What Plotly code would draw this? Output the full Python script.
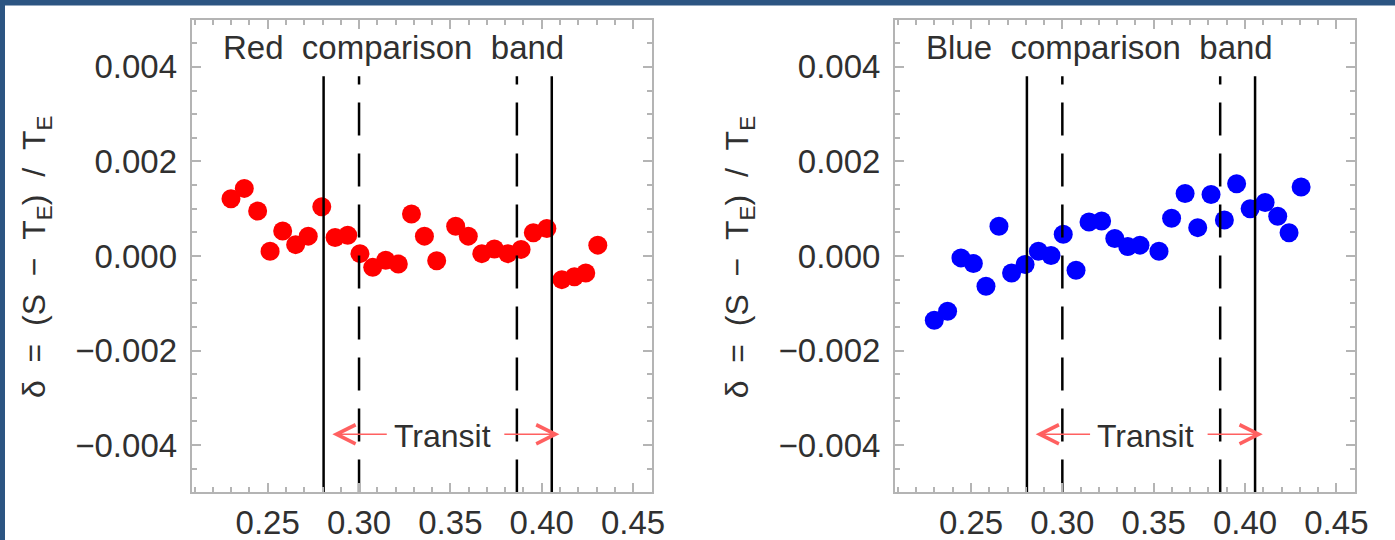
import plotly.graph_objects as go

# ---------------- data ----------------
phase = [0.2299, 0.2372, 0.2445, 0.2513, 0.2582, 0.2653, 0.2722, 0.2796, 0.2869, 0.2938,
         0.3005, 0.3075, 0.3146, 0.3215, 0.3287, 0.3358, 0.3425, 0.3529, 0.3598, 0.3672,
         0.3741, 0.3814, 0.3887, 0.3954, 0.4028, 0.4110, 0.4179, 0.4241, 0.4307]

red_delta = [0.00121, 0.00143, 0.00095, 0.00010, 0.00053, 0.00024, 0.00042, 0.00104, 0.00039, 0.00044,
             0.00005, -0.00024, -0.00009, -0.00017, 0.00089, 0.00042, -0.00010, 0.00063, 0.00042, 0.00005,
             0.00015, 0.00005, 0.00014, 0.00049, 0.00058, -0.00050, -0.00044, -0.00036, 0.00023]

blue_delta = [-0.00136, -0.00117, -0.00004, -0.00016, -0.00064, 0.00063, -0.00036, -0.00018, 0.00010, 0.00001,
              0.00046, -0.00030, 0.00072, 0.00074, 0.00037, 0.00020, 0.00023, 0.00010, 0.00080, 0.00132,
              0.00060, 0.00130, 0.00076, 0.00153, 0.00100, 0.00113, 0.00084, 0.00049, 0.00146]

contact_solid = [0.2806, 0.4055]     # first / fourth contact
contact_dashed = [0.3000, 0.3864]    # second / third contact
contact_top = 0.0038

arrow_y = -0.00377
arrow_left = [0.3160, 0.2854]        # tail, tip
arrow_right = [0.3787, 0.4097]       # tail, tip
transit_label_x = 0.3457

x_range = [0.2084, 0.4602]
y_range = [-0.005, 0.005]
x_ticks = [0.25, 0.30, 0.35, 0.40, 0.45]
y_ticks = [-0.004, -0.002, 0.0, 0.002, 0.004]

panel_titles = ["Red comparison band", "Blue comparison band"]
panel_colors = ["#ff0000", "#0000ff"]
panel_series = [red_delta, blue_delta]

# ---------------- styling ----------------
W, H = 1395, 540
FONT = "Liberation Sans"
frame = "#b4b4b4"
txt = "#303030"
arrow_col = "#ff6060"
NB = "\u00a0"

x_dom = [[191.7 / W, 651.7 / W], [895.0 / W, 1355.0 / W]]
y_dom = [1 - 492.4 / H, 1 - 19.6 / H]

fig = go.Figure()
axis_ids = [("x", "y"), ("x2", "y2")]

for i, (xa, ya) in enumerate(axis_ids):
    fig.add_trace(go.Scatter(x=phase, y=panel_series[i], mode="markers",
                             marker=dict(color=panel_colors[i], size=19, line=dict(width=0)),
                             xaxis=xa, yaxis=ya, showlegend=False, hoverinfo="skip"))
    for xv in contact_solid:
        fig.add_trace(go.Scatter(x=[xv, xv], y=[y_range[0], contact_top], mode="lines",
                                 line=dict(color="black", width=2.5),
                                 xaxis=xa, yaxis=ya, showlegend=False, hoverinfo="skip"))
    for xv in contact_dashed:
        fig.add_trace(go.Scatter(x=[xv, xv], y=[y_range[0], contact_top], mode="lines",
                                 line=dict(color="black", width=2.5, dash="33px,18px"),
                                 xaxis=xa, yaxis=ya, showlegend=False, hoverinfo="skip"))

common = dict(showline=True, linecolor=frame, linewidth=2, mirror="ticks",
              ticks="inside", tickcolor=frame, tickwidth=2, ticklen=9,
              showgrid=False, zeroline=False, automargin=False,
              tickfont=dict(family=FONT, size=33, color=txt))

layout = dict(width=W, height=H, autosize=False,
              margin=dict(l=0, r=0, t=0, b=0, pad=0, autoexpand=False),
              paper_bgcolor="white", plot_bgcolor="white", showlegend=False)

for i, (xa, ya) in enumerate(axis_ids):
    xkey = "xaxis" if i == 0 else "xaxis2"
    ykey = "yaxis" if i == 0 else "yaxis2"
    layout[xkey] = dict(common, domain=x_dom[i], range=x_range, anchor=ya,
                        tickmode="array", tickvals=x_ticks, tickformat=".2f",
                        ticklabelstandoff=0,
                        minor=dict(ticks="inside", dtick=0.01, tick0=0.25, ticklen=5,
                                   tickcolor=frame, tickwidth=2))
    layout[ykey] = dict(common, domain=y_dom, range=y_range, anchor=xa,
                        tickmode="array", tickvals=y_ticks, tickformat=".3f",
                        ticklabelstandoff=6,
                        minor=dict(ticks="inside", dtick=0.0005, tick0=0, ticklen=5,
                                   tickcolor=frame, tickwidth=2))

fig.update_layout(**layout)

ylabel = ("\u03b4" + NB * 2 + "=" + NB * 2 + "(S" + NB * 2 + "\u2212" + NB * 2 +
          "T<sub>E</sub>)" + NB * 2 + "/" + NB * 2 + "T<sub>E</sub>")

annotations = []
for i, (xa, ya) in enumerate(axis_ids):
    # panel title inside the frame
    annotations.append(dict(text=panel_titles[i].replace(" ", NB * 2), xref=xa + " domain", yref=ya + " domain",
                            x=0.0637, y=0.942, xanchor="left", yanchor="middle", showarrow=False,
                            font=dict(family=FONT, size=33, color=txt)))
    # y-axis label
    annotations.append(dict(text=ylabel, xref="paper", yref="paper",
                            x=(37 + 703.3 * i) / W, y=1 - 257 / H, textangle=-90,
                            xanchor="center", yanchor="middle", showarrow=False,
                            font=dict(family=FONT, size=32, color=txt)))
    # transit arrows
    for tail, tip in (arrow_left, arrow_right):
        annotations.append(dict(text="", x=tip, y=arrow_y, ax=tail, ay=arrow_y,
                                xref=xa, yref=ya, axref=xa, ayref=ya,
                                showarrow=True, arrowhead=5, arrowsize=2.5, arrowwidth=1.5,
                                arrowcolor=arrow_col, standoff=0, startstandoff=0))
    annotations.append(dict(text="Transit", x=transit_label_x, y=arrow_y, xref=xa, yref=ya,
                            showarrow=False, xanchor="center", yanchor="middle", yshift=-2,
                            font=dict(family=FONT, size=32, color=txt)))

fig.update_layout(annotations=annotations)

# dark blue frame strips (top and left edges of the picture)
border = "#2c5582"
fig.update_layout(shapes=[
    dict(type="rect", xref="paper", yref="paper", x0=0, x1=1, y0=1 - 5.5 / H, y1=1,
         fillcolor=border, line=dict(width=0), layer="above"),
    dict(type="rect", xref="paper", yref="paper", x0=0, x1=5 / W, y0=0, y1=1,
         fillcolor=border, line=dict(width=0), layer="above"),
])

fig.write_html("out.html")
